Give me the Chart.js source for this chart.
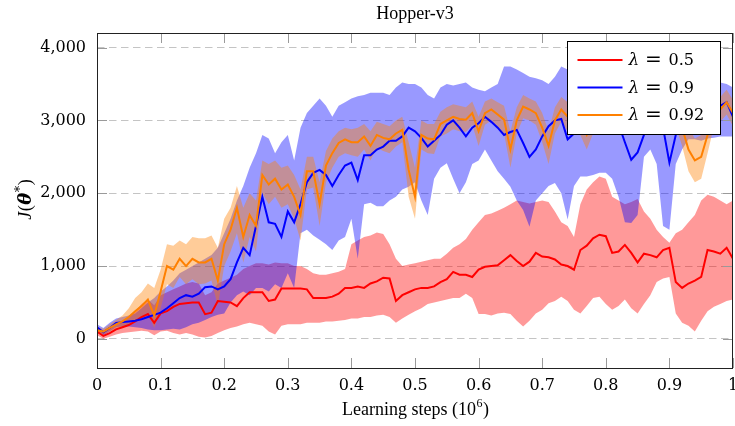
<!DOCTYPE html>
<html>
<head>
<meta charset="utf-8">
<script src="https://cdn.jsdelivr.net/npm/chart.js@4.4.1/dist/chart.umd.min.js"></script>
<style>
html,body{margin:0;padding:0;background:#fff;}
#wrap{width:735px;height:426px;}
</style>
</head>
<body>
<div id="wrap"><canvas id="c" width="735" height="426"></canvas></div>
<script>
// ---- data (x in 10^6 learning steps) ----
const steps = [0,0.01,0.02,0.03,0.04,0.05,0.06,0.07,0.08,0.09,
0.10,0.11,0.12,0.13,0.14,0.15,0.16,0.17,0.18,0.19,
0.20,0.21,0.22,0.23,0.24,0.25,0.26,0.27,0.28,0.29,
0.30,0.31,0.32,0.33,0.34,0.35,0.36,0.37,0.38,0.39,
0.40,0.41,0.42,0.43,0.44,0.45,0.46,0.47,0.48,0.49,
0.50,0.51,0.52,0.53,0.54,0.55,0.56,0.57,0.58,0.59,
0.60,0.61,0.62,0.63,0.64,0.65,0.66,0.67,0.68,0.69,
0.70,0.71,0.72,0.73,0.74,0.75,0.76,0.77,0.78,0.79,
0.80,0.81,0.82,0.83,0.84,0.85,0.86,0.87,0.88,0.89,
0.90,0.91,0.92,0.93,0.94,0.95,0.96,0.97,0.98,0.99,1.00];

// lambda = 0.5
const red = [100,40,80,130,160,190,240,300,340,220,
350,380,440,480,490,500,500,340,360,520,
510,500,450,560,640,640,640,520,540,690,
690,690,690,680,560,560,560,580,620,700,
700,720,700,760,790,840,830,520,600,640,
680,700,700,720,780,820,920,880,880,850,
950,990,1000,1010,1080,1150,1070,1000,1060,1180,
1130,1120,1090,1020,1000,950,1220,1280,1380,1430,
1410,1180,1200,1290,1180,1050,1170,1150,1120,1220,
1250,780,700,760,800,850,1220,1200,1170,1250,1100];
const redHigh = [150,100,150,200,240,290,380,480,540,460,
600,640,680,720,760,780,760,600,640,760,
800,840,880,960,1000,1040,1040,1020,1050,1040,
1040,1000,1000,960,900,880,880,900,920,960,
1300,1350,1400,1420,1460,1440,1300,1100,1000,1020,
1040,1060,1080,1100,1100,1170,1250,1300,1370,1500,
1600,1700,1720,1760,1800,1850,1900,1880,1860,1880,
1900,1880,1750,1600,1550,1400,1850,2050,2150,2230,
2200,1950,1900,1850,1880,1920,1750,1650,1500,1400,
1320,1450,1500,1600,1700,1900,1980,1950,1900,1850,1900];
const redLow = [50,0,30,60,80,90,100,110,100,50,
100,110,80,60,80,60,30,20,40,80,
120,150,170,200,220,200,180,100,60,180,
200,200,200,220,220,220,240,240,250,260,
280,280,300,300,320,330,300,220,280,330,
380,420,480,500,520,540,560,560,620,560,
340,340,320,350,360,340,250,170,250,350,
400,490,520,580,520,400,350,450,560,580,
480,400,450,540,420,350,480,600,780,830,
850,350,220,180,100,250,380,440,480,520,540];

// lambda = 0.9
const blue = [160,90,150,220,230,240,250,270,300,330,
360,420,490,560,600,580,620,710,720,680,
720,820,1050,1250,1150,1550,1950,1600,1580,1400,
1750,1600,1850,2150,2280,2320,2250,2100,2250,2380,
2420,2180,2520,2520,2600,2640,2720,2720,2780,2900,
2850,2760,2640,2720,2800,2940,3000,2900,2780,2900,
2960,3050,2980,2900,2800,2840,2870,2690,2500,2600,
2780,2920,3000,3020,2740,2820,2950,3000,3050,3050,
3000,3000,2950,2700,2460,2560,2800,3000,3050,2900,
2420,2800,3000,3050,3100,3150,3100,3150,3200,3250,3050];
const blueHigh = [200,150,220,280,300,320,350,420,500,560,
650,720,800,900,950,1000,1050,1100,1150,1250,
1450,1650,1900,2100,2350,2550,2800,2750,2550,2700,
2800,2450,2900,3100,3200,3300,3200,3050,3200,3250,
3300,3330,3350,3380,3380,3380,3350,3450,3520,3500,
3500,3450,3350,3300,3450,3500,3480,3500,3520,3450,
3420,3400,3450,3500,3740,3740,3700,3650,3600,3580,
3550,3500,3600,3740,3700,3650,3600,3600,3600,3600,
3600,3600,3600,3600,3600,3600,3600,3600,3600,3600,
3600,3600,3600,3600,3600,3600,3600,3580,3520,3500,3450];
const blueLow = [120,50,100,160,170,170,160,150,130,120,
120,130,140,130,160,200,220,260,300,330,
350,500,600,650,600,700,700,650,750,700,
900,700,1450,1500,1420,1360,1300,1220,1350,1400,
1650,1100,1850,1870,1820,1820,1900,1950,2050,2090,
2150,1900,1700,2200,2350,2410,2200,2000,2150,2400,
2450,2600,2450,2300,2200,2090,1900,1770,1540,1900,
2000,2100,2140,2000,1640,2100,2230,2230,2250,2280,
2280,2200,1950,1600,1590,1700,2500,2600,2400,1550,
1500,2400,2600,2740,2740,2720,2750,2760,2780,2780,2780];

// lambda = 0.92
const orange = [120,100,150,200,240,300,380,450,540,320,
650,1000,950,1100,1000,1100,1050,1050,1100,800,
1300,1500,1800,1400,1700,1550,2250,2120,2200,2050,
2120,1950,1700,2300,2300,1850,2380,2550,2690,2740,
2700,2700,2780,2650,2800,2760,2740,2820,2870,2320,
1950,2800,2750,2740,2950,3000,3050,3020,3010,3100,
2850,3100,3150,3080,3010,2600,3000,3190,3150,3100,
2900,2650,3000,3150,3050,3100,2980,2800,3000,3100,
3150,3150,3150,3100,3150,3150,3100,3100,3050,3000,
3050,3100,2900,2600,2450,2500,2800,3100,3150,3250,3100];
const orangeHigh = [160,140,200,260,320,420,560,640,760,700,
950,1300,1280,1350,1300,1400,1380,1380,1420,1250,
1650,1800,2100,1800,2000,1900,2450,2400,2450,2350,
2380,2250,2050,2500,2500,2150,2580,2750,2850,2900,
2880,2900,2950,2850,2980,2950,2920,3000,3050,2700,
2350,3000,2950,2950,3120,3180,3220,3200,3180,3260,
3050,3260,3300,3250,3200,2850,3180,3350,3300,3260,
3100,2850,3180,3320,3250,3280,3150,3000,3180,3280,
3320,3320,3320,3280,3320,3320,3280,3280,3240,3200,
3240,3280,3150,2900,2750,2800,3050,3280,3320,3420,3280];
const orangeLow = [80,60,100,140,170,200,250,300,360,150,
420,750,700,850,750,820,750,760,800,450,
1000,1200,1450,1050,1400,1200,2000,1850,1950,1800,
1850,1650,1350,2050,2080,1550,2150,2350,2500,2550,
2520,2500,2600,2450,2620,2580,2550,2640,2700,1950,
1650,2600,2550,2540,2780,2820,2880,2850,2840,2940,
2650,2940,3000,2900,2820,2350,2820,3030,3000,2940,
2700,2400,2820,2980,2850,2920,2800,2600,2820,2920,
2980,2980,2980,2920,2980,2980,2920,2920,2860,2800,
2860,2920,2650,2300,2150,2200,2550,2920,2980,3080,2920];

const seriesNames = ['\u03bb = 0.5', '\u03bb = 0.9', '\u03bb = 0.92'];
const xTicks = [0,0.1,0.2,0.3,0.4,0.5,0.6,0.7,0.8,0.9,1];
const xTickLabels = ['0','0.1','0.2','0.3','0.4','0.5','0.6','0.7','0.8','0.9','1'];
const yTicks = [0,1000,2000,3000,4000];
const yTickLabels = ['0','1,000','2,000','3,000','4,000'];
const chartTitle = 'Hopper-v3';

// ---- styles ----
const C_RED = '#ff0000', C_BLUE = '#0000ff', C_ORANGE = '#ff8000';
const F_RED = 'rgba(255,0,0,0.4)', F_BLUE = 'rgba(0,0,255,0.4)', F_ORANGE = 'rgba(255,128,0,0.4)';
const pts = arr => steps.map((s, i) => ({x: s, y: arr[i]}));

function lineDs(label, arr, color, order) {
  return {label, data: pts(arr), borderColor: color, borderWidth: 2, pointRadius: 0, fill: false, order, tension: 0};
}
function bandDs(label, arr, fillColor, order, fillTo) {
  return {label, data: pts(arr), borderWidth: 0, borderColor: 'rgba(0,0,0,0)', backgroundColor: fillColor,
          pointRadius: 0, fill: fillTo, order, tension: 0};
}

const datasets = [
  bandDs('redHigh', redHigh, F_RED, 6, '+1'),
  bandDs('redLow', redLow, F_RED, 6, false),
  bandDs('blueHigh', blueHigh, F_BLUE, 5, '+1'),
  bandDs('blueLow', blueLow, F_BLUE, 5, false),
  bandDs('orangeHigh', orangeHigh, F_ORANGE, 4, '+1'),
  bandDs('orangeLow', orangeLow, F_ORANGE, 4, false),
  lineDs(seriesNames[0], red, C_RED, 3),
  lineDs(seriesNames[1], blue, C_BLUE, 2),
  lineDs(seriesNames[2], orange, C_ORANGE, 1)
];

const decor = {
  id: 'decor',
  afterDatasetsDraw(chart) {
    const {ctx, chartArea: a, scales: {x, y}} = chart;
    ctx.save();
    // inner tick marks
    ctx.strokeStyle = '#9a9a9a';
    ctx.lineWidth = 1;
    ctx.beginPath();
    xTicks.forEach(v => {
      const px = Math.round(x.getPixelForValue(v)) + 0.5;
      ctx.moveTo(px, a.bottom); ctx.lineTo(px, a.bottom - 10);
      ctx.moveTo(px, a.top); ctx.lineTo(px, a.top + 10);
    });
    yTicks.forEach(v => {
      const py = Math.round(y.getPixelForValue(v)) + 0.5;
      ctx.moveTo(a.left, py); ctx.lineTo(a.left + 10, py);
      ctx.moveTo(a.right, py); ctx.lineTo(a.right - 10, py);
    });
    ctx.stroke();
    // frame
    ctx.strokeStyle = '#222';
    ctx.strokeRect(Math.round(a.left) + 0.5, Math.round(a.top) + 0.5,
                   Math.round(a.right - a.left) - 1, Math.round(a.bottom - a.top));
    // legend
    const bw = 153, bh = 93;
    const bx = Math.round(a.right - 13 - bw) + 0.5, by = Math.round(a.top + 8) + 0.5;
    ctx.fillStyle = '#fff';
    ctx.fillRect(bx, by, bw, bh);
    ctx.strokeStyle = '#000';
    ctx.strokeRect(bx, by, bw, bh);
    const colors = [C_RED, C_BLUE, C_ORANGE];
    const nums = ['0.5', '0.9', '0.92'];
    for (let i = 0; i < 3; i++) {
      const ly = by + 18.5 + i * 27.5;
      ctx.strokeStyle = colors[i];
      ctx.lineWidth = 2;
      ctx.beginPath(); ctx.moveTo(bx + 10, ly); ctx.lineTo(bx + 55, ly); ctx.stroke();
      ctx.fillStyle = '#000';
      ctx.textBaseline = 'middle';
      ctx.textAlign = 'left';
      ctx.font = 'italic 17px "DejaVu Serif"';
      ctx.fillText('\u03bb', bx + 61, ly + 1);
      ctx.font = '20px "DejaVu Serif"';
      ctx.textAlign = 'center';
      ctx.fillText('=', bx + 86, ly + 1);
      ctx.textAlign = 'left';
      ctx.font = '16px "DejaVu Serif"';
      ctx.fillText(nums[i], bx + 101, ly + 1);
    }
    ctx.restore();
  },
  afterDraw(chart) {
    const {ctx, chartArea: a} = chart;
    const cx = (a.left + a.right) / 2;
    ctx.save();
    ctx.fillStyle = '#000';
    ctx.textBaseline = 'alphabetic';
    // title
    ctx.font = '18px "Liberation Serif"';
    ctx.textAlign = 'center';
    ctx.fillText(chartTitle, cx, 19);
    // x axis title with superscript
    const t1 = 'Learning steps (10', t2 = '6', t3 = ')';
    ctx.font = '18px "Liberation Serif"';
    const w1 = ctx.measureText(t1).width, w3 = ctx.measureText(t3).width;
    ctx.font = '12px "Liberation Serif"';
    const w2 = ctx.measureText(t2).width;
    let sx = cx - (w1 + w2 + w3) / 2;
    ctx.textAlign = 'left';
    ctx.font = '18px "Liberation Serif"';
    ctx.fillText(t1, sx, 415);
    ctx.font = '12px "Liberation Serif"';
    ctx.fillText(t2, sx + w1 + 0.5, 407);
    ctx.font = '18px "Liberation Serif"';
    ctx.fillText(t3, sx + w1 + w2 + 1, 415);
    // y axis title J(theta*)
    const cy = (a.top + a.bottom) / 2;
    ctx.translate(31, cy);
    ctx.rotate(-Math.PI / 2);
    const parts = [
      {t: 'J', f: 'italic 18px "Liberation Serif"', dy: 0},
      {t: '(', f: '18px "Liberation Serif"', dy: 0},
      {t: '\u03b8', f: 'italic bold 18px "DejaVu Serif"', dy: 0},
      {t: '*', f: '13px "DejaVu Serif"', dy: -7},
      {t: ')', f: '18px "Liberation Serif"', dy: 0}
    ];
    let total = 0;
    parts.forEach(p => { ctx.font = p.f; p.w = ctx.measureText(p.t).width; total += p.w; });
    let px = -total / 2;
    parts.forEach(p => { ctx.font = p.f; ctx.fillText(p.t, px, p.dy); px += p.w + 0.5; });
    ctx.restore();
  }
};

new Chart(document.getElementById('c'), {
  type: 'line',
  data: {datasets},
  options: {
    responsive: false,
    animation: false,
    layout: {padding: {top: 33, right: 2, left: 0, bottom: 0}},
    plugins: {
      legend: {display: false},
      tooltip: {enabled: false},
      filler: {drawTime: 'beforeDatasetsDraw', propagate: false}
    },
    scales: {
      x: {
        type: 'linear', min: 0, max: 1,
        afterFit: s => { s.height = 58; s.paddingLeft = 0; s.paddingRight = 0; },
        afterBuildTicks: s => { s.ticks = xTicks.map(v => ({value: v})); },
        grid: {display: false, drawTicks: false},
        border: {display: false},
        ticks: {
          padding: 8, color: '#000', maxRotation: 0, autoSkip: false,
          font: {family: 'DejaVu Serif', size: 16},
          callback: (v, i) => xTickLabels[i]
        }
      },
      y: {
        type: 'linear', min: -400, max: 4200,
        afterFit: s => { s.width = 97; s.paddingTop = 0; s.paddingBottom = 0; },
        afterBuildTicks: s => { s.ticks = yTicks.map(v => ({value: v})); },
        grid: {color: '#c4c4c4', lineWidth: 1, drawTicks: false},
        border: {display: false, dash: [7.5, 4.5]},
        ticks: {
          padding: 11, color: '#000',
          font: {family: 'DejaVu Serif', size: 16},
          callback: (v, i) => yTickLabels[i]
        }
      }
    }
  },
  plugins: [decor]
});
</script>
</body>
</html>
